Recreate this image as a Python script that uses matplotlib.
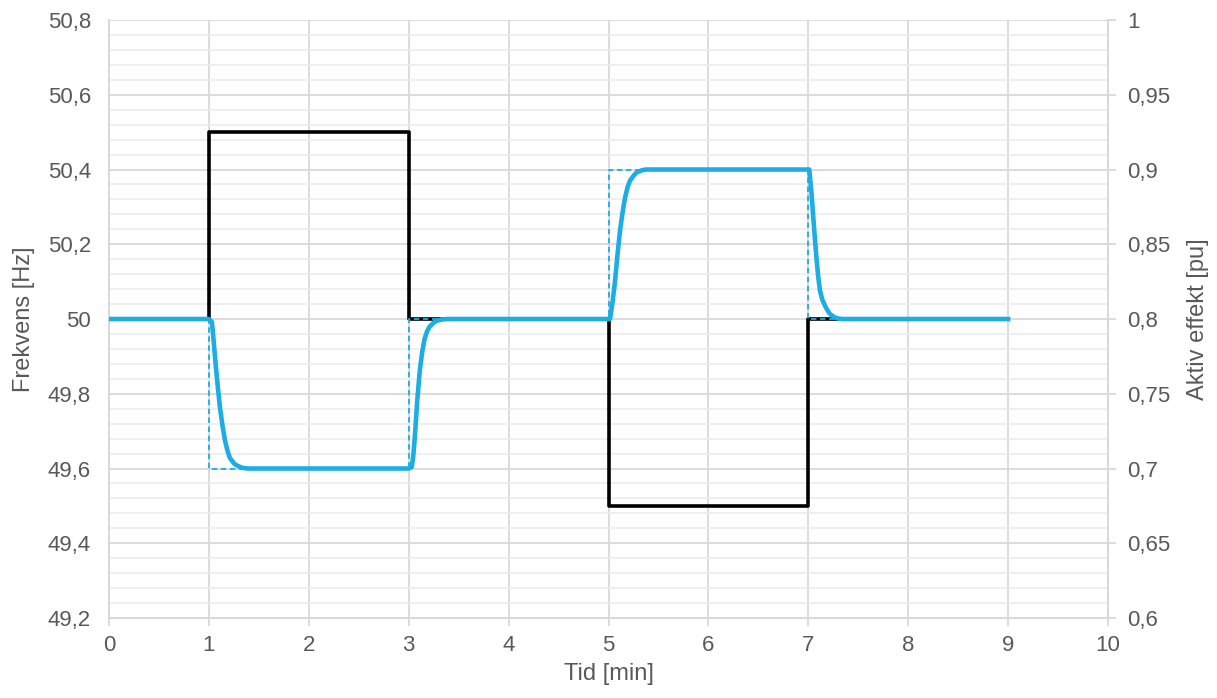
import numpy as np
import matplotlib.pyplot as plt
from matplotlib.ticker import FuncFormatter, MultipleLocator

plt.rcParams['font.family'] = ['Liberation Sans', 'DejaVu Sans']

# frekvens (svart steg)
f_t = [0, 1, 1, 3, 3, 5, 5, 7, 7, 9]
f_hz = [50, 50, 50.5, 50.5, 50, 50, 49.5, 49.5, 50, 50]

# aktiv effekt, referens (streckad)
pref_t = [0, 1, 1, 3, 3, 5, 5, 7, 7, 9]
pref_pu = [0.8, 0.8, 0.7, 0.7, 0.8, 0.8, 0.9, 0.9, 0.8, 0.8]

# aktiv effekt, respons (heldragen)
p_t = [0, 1.0, 1.03, 1.045, 1.06, 1.085, 1.11, 1.135, 1.16, 1.185, 1.21, 1.25, 1.28, 1.33, 1.38,
       3.0, 3.03, 3.045, 3.06, 3.085, 3.11, 3.135, 3.16, 3.185, 3.21, 3.25, 3.28, 3.33, 3.38,
       5.0, 5.015, 5.04, 5.065, 5.09, 5.115, 5.14, 5.165, 5.19, 5.215, 5.25, 5.28, 5.33, 5.37,
       7.0, 7.01, 7.03, 7.05, 7.067, 7.084, 7.10, 7.117, 7.14, 7.167, 7.19, 7.217, 7.26, 7.30, 7.35,
       9.0]
p_pu = [0.8, 0.8, 0.798, 0.787, 0.775, 0.757, 0.741, 0.729, 0.719, 0.712, 0.707, 0.7035, 0.702, 0.7005, 0.7,
        0.7, 0.701, 0.708, 0.72, 0.745, 0.765, 0.778, 0.787, 0.792, 0.795, 0.7975, 0.7988, 0.7997, 0.8,
        0.8, 0.8, 0.811, 0.825, 0.843, 0.859, 0.871, 0.881, 0.888, 0.8926, 0.8958, 0.898, 0.8994, 0.9,
        0.9, 0.9, 0.886, 0.868, 0.853, 0.839, 0.828, 0.819, 0.813, 0.809, 0.806, 0.8034, 0.8012, 0.8003, 0.8,
        0.8]

blue = '#1CADE4'
txt = '#595959'
grid_major = '#d9d9d9'
grid_minor = '#ececec'


def comma(v, pos):
    s = ('%.2f' % v).rstrip('0').rstrip('.')
    return s.replace('.', ',')


fig = plt.figure(figsize=(12.17, 6.98), dpi=100)
ax1 = fig.add_axes([0.0896, 0.1146, 0.8208, 0.8567])
ax2 = ax1.twinx()

ax1.plot(f_t, f_hz, color='black', lw=2.6, zorder=3)
ax2.plot(pref_t, pref_pu, color=blue, lw=1.3, ls=(0, (3, 2)), zorder=3)
ax2.plot(p_t, p_pu, color=blue, lw=3.3, zorder=4, solid_joinstyle='round')

ax1.set_xlim(0, 10)
ax1.set_ylim(49.2, 50.8)
ax2.set_ylim(0.6, 1.0)
ax1.xaxis.set_major_locator(MultipleLocator(1))
ax1.yaxis.set_major_locator(MultipleLocator(0.2))
ax1.yaxis.set_minor_locator(MultipleLocator(0.04))
ax2.yaxis.set_major_locator(MultipleLocator(0.05))
ax1.yaxis.set_major_formatter(FuncFormatter(comma))
ax2.yaxis.set_major_formatter(FuncFormatter(comma))

ax1.grid(True, which='major', color=grid_major, lw=1.3)
ax1.grid(True, which='minor', axis='y', color=grid_minor, lw=1.2)
ax1.set_axisbelow(True)

for ax in (ax1, ax2):
    for s in ax.spines.values():
        s.set_color(grid_major)
        s.set_linewidth(1.3)
    ax.spines['top'].set_visible(False)

ax1.tick_params(axis='y', which='both', length=0, labelsize=16, labelcolor=txt, pad=13)
ax1.tick_params(axis='x', length=6, width=1.3, color=grid_major, labelsize=16, labelcolor=txt, pad=6)
ax2.tick_params(axis='y', length=6, width=1.3, color=grid_major, labelsize=16, labelcolor=txt, pad=8)

ax1.set_xlabel('Tid [min]', fontsize=17, color=txt, labelpad=5)
ax1.set_ylabel('Frekvens [Hz]', fontsize=17, color=txt, labelpad=9)
ax2.set_ylabel('Aktiv effekt [pu]', fontsize=17, color=txt, labelpad=12)

fig.savefig('out.png', dpi=100)
